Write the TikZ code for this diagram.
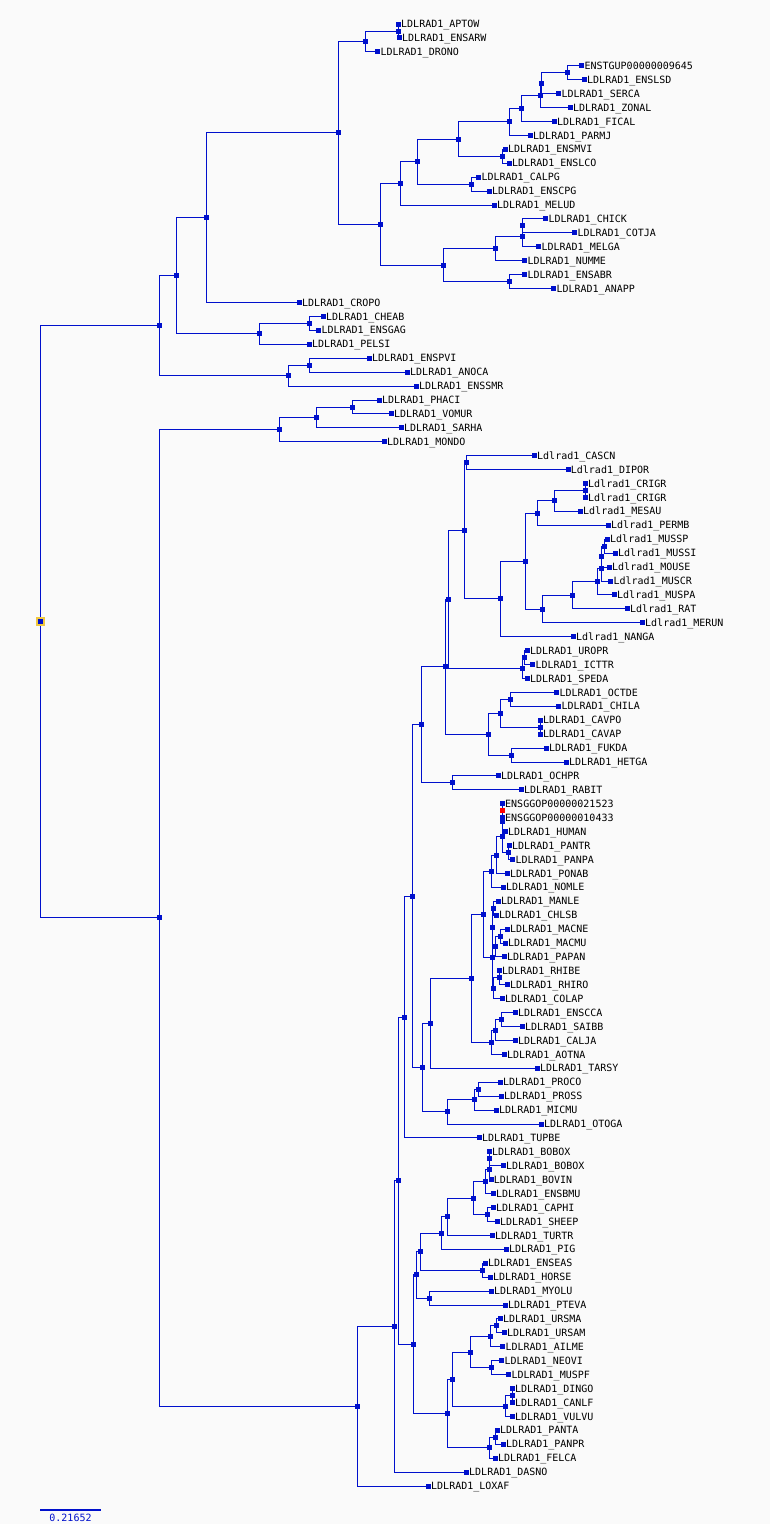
\documentclass[tikz,border=0pt]{standalone}
\usepackage{fontspec}
\setmonofont{DejaVu Sans Mono}
\usepackage{xcolor}
\usepackage{tikz}
\definecolor{treeblue}{RGB}{0,16,204}
\definecolor{bggray}{RGB}{250,250,250}
\definecolor{rootgold}{RGB}{240,200,64}
\definecolor{nodered}{RGB}{255,0,0}
\pgfdeclarelayer{bg}
\pgfdeclarelayer{edges}
\pgfsetlayers{bg,edges,main}
\tikzstyle{leaf} = [rectangle, fill=treeblue, inner sep=0pt, minimum size=5pt, label distance=3.6pt]
\tikzstyle{fork} = [rectangle, fill=treeblue, inner sep=0pt, minimum size=5pt]
\tikzstyle{lab} = [font=\ttfamily\fontsize{10}{12}\selectfont, inner sep=0pt, text height=7.3pt, text depth=0pt]
\tikzstyle{branch} = [draw=treeblue, line width=1pt]
\newcommand{\clade}[3]{\path [branch] (#1.center) |- (#2.center) (#1.center) |- (#3.center);}

\begin{document}
\begin{tikzpicture}[x=1pt, y=-1pt]
    \useasboundingbox (0,0) rectangle (770,1524);
    \begin{pgfonlayer}{bg}
      \fill [bggray] (0,0) rectangle (770,1524);
    \end{pgfonlayer}
    % leaves
    \node [leaf, label={[lab]right:LDLRAD1\_APTOW}] (aptow) at (398.3,24.0) {};
    \node [leaf, label={[lab]right:LDLRAD1\_ENSARW}] (ensarw) at (399.3,37.9) {};
    \node [leaf, label={[lab]right:LDLRAD1\_DRONO}] (drono) at (377.7,51.8) {};
    \node [leaf, label={[lab]right:ENSTGUP00000009645}] (enstgup) at (581.7,65.8) {};
    \node [leaf, label={[lab]right:LDLRAD1\_ENSLSD}] (enslsd) at (584.3,79.7) {};
    \node [leaf, label={[lab]right:LDLRAD1\_SERCA}] (serca) at (558.7,93.6) {};
    \node [leaf, label={[lab]right:LDLRAD1\_ZONAL}] (zonal) at (570.3,107.5) {};
    \node [leaf, label={[lab]right:LDLRAD1\_FICAL}] (fical) at (554.3,121.5) {};
    \node [leaf, label={[lab]right:LDLRAD1\_PARMJ}] (parmj) at (530.3,135.4) {};
    \node [leaf, label={[lab]right:LDLRAD1\_ENSMVI}] (ensmvi) at (505.3,149.3) {};
    \node [leaf, label={[lab]right:LDLRAD1\_ENSLCO}] (enslco) at (509.3,163.2) {};
    \node [leaf, label={[lab]right:LDLRAD1\_CALPG}] (calpg) at (478.7,177.2) {};
    \node [leaf, label={[lab]right:LDLRAD1\_ENSCPG}] (enscpg) at (489.3,191.1) {};
    \node [leaf, label={[lab]right:LDLRAD1\_MELUD}] (melud) at (494.3,205.0) {};
    \node [leaf, label={[lab]right:LDLRAD1\_CHICK}] (chick) at (545.7,218.9) {};
    \node [leaf, label={[lab]right:LDLRAD1\_COTJA}] (cotja) at (574.7,232.9) {};
    \node [leaf, label={[lab]right:LDLRAD1\_MELGA}] (melga) at (538.7,246.8) {};
    \node [leaf, label={[lab]right:LDLRAD1\_NUMME}] (numme) at (524.7,260.7) {};
    \node [leaf, label={[lab]right:LDLRAD1\_ENSABR}] (ensabr) at (524.7,274.6) {};
    \node [leaf, label={[lab]right:LDLRAD1\_ANAPP}] (anapp) at (553.7,288.6) {};
    \node [leaf, label={[lab]right:LDLRAD1\_CROPO}] (cropo) at (299.3,302.5) {};
    \node [leaf, label={[lab]right:LDLRAD1\_CHEAB}] (cheab) at (323.3,316.4) {};
    \node [leaf, label={[lab]right:LDLRAD1\_ENSGAG}] (ensgag) at (318.7,330.3) {};
    \node [leaf, label={[lab]right:LDLRAD1\_PELSI}] (pelsi) at (309.3,344.3) {};
    \node [leaf, label={[lab]right:LDLRAD1\_ENSPVI}] (enspvi) at (369.3,358.2) {};
    \node [leaf, label={[lab]right:LDLRAD1\_ANOCA}] (anoca) at (407.3,372.1) {};
    \node [leaf, label={[lab]right:LDLRAD1\_ENSSMR}] (enssmr) at (416.3,386.0) {};
    \node [leaf, label={[lab]right:LDLRAD1\_PHACI}] (phaci) at (379.3,400.0) {};
    \node [leaf, label={[lab]right:LDLRAD1\_VOMUR}] (vomur) at (391.3,413.9) {};
    \node [leaf, label={[lab]right:LDLRAD1\_SARHA}] (sarha) at (401.3,427.8) {};
    \node [leaf, label={[lab]right:LDLRAD1\_MONDO}] (mondo) at (384.3,441.7) {};
    \node [leaf, label={[lab]right:Ldlrad1\_CASCN}] (cascn) at (534.3,455.7) {};
    \node [leaf, label={[lab]right:Ldlrad1\_DIPOR}] (dipor) at (568.0,469.6) {};
    \node [leaf, label={[lab]right:Ldlrad1\_CRIGR}] (crigr1) at (585.3,483.5) {};
    \node [leaf, label={[lab]right:Ldlrad1\_CRIGR}] (crigr2) at (585.3,497.4) {};
    \node [leaf, label={[lab]right:Ldlrad1\_MESAU}] (mesau) at (580.3,511.3) {};
    \node [leaf, label={[lab]right:Ldlrad1\_PERMB}] (permb) at (608.3,525.3) {};
    \node [leaf, label={[lab]right:Ldlrad1\_MUSSP}] (mussp) at (607.3,539.2) {};
    \node [leaf, label={[lab]right:Ldlrad1\_MUSSI}] (mussi) at (615.3,553.1) {};
    \node [leaf, label={[lab]right:Ldlrad1\_MOUSE}] (mouse) at (609.3,567.0) {};
    \node [leaf, label={[lab]right:Ldlrad1\_MUSCR}] (muscr) at (610.7,581.0) {};
    \node [leaf, label={[lab]right:Ldlrad1\_MUSPA}] (muspa) at (614.3,594.9) {};
    \node [leaf, label={[lab]right:Ldlrad1\_RAT}] (rat) at (627.3,608.8) {};
    \node [leaf, label={[lab]right:Ldlrad1\_MERUN}] (merun) at (642.3,622.7) {};
    \node [leaf, label={[lab]right:Ldlrad1\_NANGA}] (nanga) at (573.3,636.7) {};
    \node [leaf, label={[lab]right:LDLRAD1\_UROPR}] (uropr) at (527.3,650.6) {};
    \node [leaf, label={[lab]right:LDLRAD1\_ICTTR}] (icttr) at (532.7,664.5) {};
    \node [leaf, label={[lab]right:LDLRAD1\_SPEDA}] (speda) at (527.3,678.4) {};
    \node [leaf, label={[lab]right:LDLRAD1\_OCTDE}] (octde) at (556.7,692.4) {};
    \node [leaf, label={[lab]right:LDLRAD1\_CHILA}] (chila) at (558.7,706.3) {};
    \node [leaf, label={[lab]right:LDLRAD1\_CAVPO}] (cavpo) at (540.3,720.2) {};
    \node [leaf, label={[lab]right:LDLRAD1\_CAVAP}] (cavap) at (540.3,734.1) {};
    \node [leaf, label={[lab]right:LDLRAD1\_FUKDA}] (fukda) at (546.3,748.1) {};
    \node [leaf, label={[lab]right:LDLRAD1\_HETGA}] (hetga) at (566.3,762.0) {};
    \node [leaf, label={[lab]right:LDLRAD1\_OCHPR}] (ochpr) at (498.3,775.9) {};
    \node [leaf, label={[lab]right:LDLRAD1\_RABIT}] (rabit) at (521.3,789.8) {};
    \node [leaf, label={[lab]right:ENSGGOP00000021523}] (ggo1) at (502.3,803.7) {};
    \node [leaf, label={[lab]right:ENSGGOP00000010433}] (ggo2) at (502.3,817.7) {};
    \node [leaf, label={[lab]right:LDLRAD1\_HUMAN}] (human) at (505.3,831.6) {};
    \node [leaf, label={[lab]right:LDLRAD1\_PANTR}] (pantr) at (509.3,845.5) {};
    \node [leaf, label={[lab]right:LDLRAD1\_PANPA}] (panpa) at (512.7,859.4) {};
    \node [leaf, label={[lab]right:LDLRAD1\_PONAB}] (ponab) at (507.3,873.4) {};
    \node [leaf, label={[lab]right:LDLRAD1\_NOMLE}] (nomle) at (503.3,887.3) {};
    \node [leaf, label={[lab]right:LDLRAD1\_MANLE}] (manle) at (498.3,901.2) {};
    \node [leaf, label={[lab]right:LDLRAD1\_CHLSB}] (chlsb) at (496.3,915.1) {};
    \node [leaf, label={[lab]right:LDLRAD1\_MACNE}] (macne) at (507.3,929.1) {};
    \node [leaf, label={[lab]right:LDLRAD1\_MACMU}] (macmu) at (505.3,943.0) {};
    \node [leaf, label={[lab]right:LDLRAD1\_PAPAN}] (papan) at (504.3,956.9) {};
    \node [leaf, label={[lab]right:LDLRAD1\_RHIBE}] (rhibe) at (499.3,970.8) {};
    \node [leaf, label={[lab]right:LDLRAD1\_RHIRO}] (rhiro) at (507.3,984.7) {};
    \node [leaf, label={[lab]right:LDLRAD1\_COLAP}] (colap) at (502.3,998.7) {};
    \node [leaf, label={[lab]right:LDLRAD1\_ENSCCA}] (enscca) at (515.3,1012.6) {};
    \node [leaf, label={[lab]right:LDLRAD1\_SAIBB}] (saibb) at (522.3,1026.5) {};
    \node [leaf, label={[lab]right:LDLRAD1\_CALJA}] (calja) at (515.3,1040.4) {};
    \node [leaf, label={[lab]right:LDLRAD1\_AOTNA}] (aotna) at (504.3,1054.4) {};
    \node [leaf, label={[lab]right:LDLRAD1\_TARSY}] (tarsy) at (537.3,1068.3) {};
    \node [leaf, label={[lab]right:LDLRAD1\_PROCO}] (proco) at (500.3,1082.2) {};
    \node [leaf, label={[lab]right:LDLRAD1\_PROSS}] (pross) at (501.3,1096.1) {};
    \node [leaf, label={[lab]right:LDLRAD1\_MICMU}] (micmu) at (496.3,1110.1) {};
    \node [leaf, label={[lab]right:LDLRAD1\_OTOGA}] (otoga) at (541.3,1124.0) {};
    \node [leaf, label={[lab]right:LDLRAD1\_TUPBE}] (tupbe) at (479.3,1137.9) {};
    \node [leaf, label={[lab]right:LDLRAD1\_BOBOX}] (bobox1) at (489.3,1151.8) {};
    \node [leaf, label={[lab]right:LDLRAD1\_BOBOX}] (bobox2) at (503.3,1165.8) {};
    \node [leaf, label={[lab]right:LDLRAD1\_BOVIN}] (bovin) at (491.0,1179.7) {};
    \node [leaf, label={[lab]right:LDLRAD1\_ENSBMU}] (ensbmu) at (493.3,1193.6) {};
    \node [leaf, label={[lab]right:LDLRAD1\_CAPHI}] (caphi) at (493.3,1207.5) {};
    \node [leaf, label={[lab]right:LDLRAD1\_SHEEP}] (sheep) at (497.3,1221.5) {};
    \node [leaf, label={[lab]right:LDLRAD1\_TURTR}] (turtr) at (492.3,1235.4) {};
    \node [leaf, label={[lab]right:LDLRAD1\_PIG}] (pig) at (506.3,1249.3) {};
    \node [leaf, label={[lab]right:LDLRAD1\_ENSEAS}] (enseas) at (485.3,1263.2) {};
    \node [leaf, label={[lab]right:LDLRAD1\_HORSE}] (horse) at (490.3,1277.1) {};
    \node [leaf, label={[lab]right:LDLRAD1\_MYOLU}] (myolu) at (491.3,1291.1) {};
    \node [leaf, label={[lab]right:LDLRAD1\_PTEVA}] (pteva) at (505.3,1305.0) {};
    \node [leaf, label={[lab]right:LDLRAD1\_URSMA}] (ursma) at (500.3,1318.9) {};
    \node [leaf, label={[lab]right:LDLRAD1\_URSAM}] (ursam) at (504.3,1332.8) {};
    \node [leaf, label={[lab]right:LDLRAD1\_AILME}] (ailme) at (502.7,1346.8) {};
    \node [leaf, label={[lab]right:LDLRAD1\_NEOVI}] (neovi) at (501.7,1360.7) {};
    \node [leaf, label={[lab]right:LDLRAD1\_MUSPF}] (muspf) at (508.7,1374.6) {};
    \node [leaf, label={[lab]right:LDLRAD1\_DINGO}] (dingo) at (512.3,1388.5) {};
    \node [leaf, label={[lab]right:LDLRAD1\_CANLF}] (canlf) at (512.3,1402.5) {};
    \node [leaf, label={[lab]right:LDLRAD1\_VULVU}] (vulvu) at (512.3,1416.4) {};
    \node [leaf, label={[lab]right:LDLRAD1\_PANTA}] (panta) at (497.3,1430.3) {};
    \node [leaf, label={[lab]right:LDLRAD1\_PANPR}] (panpr) at (503.3,1444.2) {};
    \node [leaf, label={[lab]right:LDLRAD1\_FELCA}] (felca) at (495.3,1458.2) {};
    \node [leaf, label={[lab]right:LDLRAD1\_DASNO}] (dasno) at (466.3,1472.1) {};
    \node [leaf, label={[lab]right:LDLRAD1\_LOXAF}] (loxaf) at (428.3,1486.0) {};

    % inner nodes, birds and reptiles
    \node [fork] (a1) at (398.3,31.0) {};
    \node [fork] (a2) at (365.3,41.4) {};
    \node [fork] (c1) at (567.3,72.8) {};
    \node [fork] (c2) at (541.3,83.2) {};
    \node [fork] (c3) at (540.3,95.4) {};
    \node [fork] (c4) at (521.3,108.4) {};
    \node [fork] (c5) at (509.3,121.9) {};
    \node [fork] (c6) at (502.3,156.3) {};
    \node [fork] (c7) at (458.3,139.1) {};
    \node [fork] (c8) at (471.3,184.2) {};
    \node [fork] (c9) at (417.3,161.7) {};
    \node [fork] (c10) at (400.3,183.4) {};
    \node [fork] (g1) at (522.3,225.9) {};
    \node [fork] (g2) at (522.3,236.4) {};
    \node [fork] (g3) at (495.3,248.6) {};
    \node [fork] (g4) at (509.3,281.6) {};
    \node [fork] (g5) at (443.3,265.1) {};
    \node [fork] (b1) at (380.3,224.3) {};
    \node [fork] (b2) at (338.3,132.9) {};
    \node [fork] (b3) at (206.3,217.7) {};
    \node [fork] (t1) at (309.3,323.4) {};
    \node [fork] (t2) at (259.3,333.9) {};
    \node [fork] (s1) at (176.3,275.8) {};
    \node [fork] (l1) at (309.3,365.2) {};
    \node [fork] (l2) at (288.3,375.6) {};
    \node [fork] (s2) at (159.3,325.7) {};
    \node [fork] (m1) at (352.3,407.0) {};
    \node [fork] (m2) at (316.7,417.4) {};
    \node [fork] (m3) at (279.3,429.6) {};
    % glires
    \node [fork] (r1) at (466.3,462.7) {};
    \node [fork] (r2) at (585.3,490.5) {};
    \node [fork] (r3) at (554.3,500.9) {};
    \node [fork] (r4) at (537.3,513.1) {};
    \node [fork] (r5) at (604.3,546.2) {};
    \node [fork] (r6) at (601.3,556.6) {};
    \node [fork] (r7) at (601.3,568.8) {};
    \node [fork] (r8) at (597.3,581.9) {};
    \node [fork] (r9) at (572.3,595.4) {};
    \node [fork] (r10) at (542.3,609.1) {};
    \node [fork] (r11) at (525.3,561.1) {};
    \node [fork] (r12) at (500.0,598.9) {};
    \node [fork] (r13) at (464.3,530.8) {};
    \node [fork] (q1) at (524.3,657.6) {};
    \node [fork] (q2) at (522.3,668.0) {};
    \node [fork] (r14) at (448.3,599.4) {};
    \node [fork] (h1) at (510.3,699.4) {};
    \node [fork] (h2) at (540.3,727.2) {};
    \node [fork] (h3) at (500.3,713.3) {};
    \node [fork] (h4) at (511.3,755.1) {};
    \node [fork] (h5) at (488.3,734.2) {};
    \node [fork] (r15) at (445.7,666.8) {};
    \node [fork] (o1) at (452.3,782.9) {};
    \node [fork] (gl) at (421.3,724.9) {};
    % primates
    \node [fork, fill=nodered] (p1) at (502.3,810.7) {};
    \node [fork] (p2) at (502.3,821.2) {};
    \node [fork] (p3) at (508.3,852.5) {};
    \node [fork] (p4) at (502.3,836.9) {};
    \node [fork] (p5) at (496.3,855.2) {};
    \node [fork] (p6) at (491.3,871.3) {};
    \node [fork] (k1) at (493.3,908.2) {};
    \node [fork] (k2) at (500.3,936.1) {};
    \node [fork] (k3) at (495.0,946.5) {};
    \node [fork] (k4) at (492.3,927.4) {};
    \node [fork] (k5) at (499.3,977.8) {};
    \node [fork] (k6) at (493.3,988.3) {};
    \node [fork] (k7) at (492.3,957.9) {};
    \node [fork] (p7) at (483.3,914.6) {};
    \node [fork] (w1) at (501.3,1019.6) {};
    \node [fork] (w2) at (495.3,1030.0) {};
    \node [fork] (w3) at (491.3,1042.2) {};
    \node [fork] (p8) at (471.3,978.4) {};
    \node [fork] (p9) at (430.3,1023.4) {};
    \node [fork] (e1) at (478.3,1089.2) {};
    \node [fork] (e2) at (474.3,1099.7) {};
    \node [fork] (e3) at (447.3,1111.9) {};
    \node [fork] (p10) at (422.3,1067.7) {};
    \node [fork] (eu1) at (412.3,896.3) {};
    \node [fork] (eu2) at (404.3,1017.1) {};
    % laurasiatheria and the rest
    \node [fork] (v1) at (489.3,1158.8) {};
    \node [fork] (v2) at (489.3,1169.3) {};
    \node [fork] (v3) at (485.3,1181.5) {};
    \node [fork] (v4) at (487.3,1214.5) {};
    \node [fork] (v5) at (473.3,1198.0) {};
    \node [fork] (v6) at (447.3,1216.7) {};
    \node [fork] (v7) at (441.3,1233.0) {};
    \node [fork] (v8) at (482.3,1270.2) {};
    \node [fork] (v9) at (420.3,1251.6) {};
    \node [fork] (v10) at (429.3,1298.1) {};
    \node [fork] (v11) at (416.0,1274.9) {};
    \node [fork] (f1) at (496.3,1325.9) {};
    \node [fork] (f2) at (490.5,1336.4) {};
    \node [fork] (f3) at (491.7,1367.7) {};
    \node [fork] (f4) at (470.3,1352.1) {};
    \node [fork] (f5) at (512.3,1395.5) {};
    \node [fork] (f6) at (505.7,1406.0) {};
    \node [fork] (f7) at (452.3,1379.1) {};
    \node [fork] (f8) at (495.3,1437.3) {};
    \node [fork] (f9) at (489.3,1447.8) {};
    \node [fork] (f10) at (447.3,1413.5) {};
    \node [fork] (v12) at (413.3,1344.2) {};
    \node [fork] (eu3) at (398.3,1180.7) {};
    \node [fork] (eu4) at (394.3,1326.4) {};
    \node [fork] (eu5) at (357.3,1406.2) {};
    \node [fork] (s3) at (159.3,917.9) {};
    \node [fork, minimum size=6.7pt, draw=rootgold, line width=2pt] (root) at (40.3,621.8) {};

    % scale bar
    \coordinate (sbl) at (40,1510);
    \coordinate (sbr) at (101,1510);
    \draw [treeblue, line width=2pt] (sbl) -- (sbr);
    \node [lab, text=treeblue, anchor=base] (sblab) at (70.5,1521.5) {0.21652};

    % edges
    \begin{pgfonlayer}{edges}
    \clade{a1}{aptow}{ensarw}
    \clade{a2}{a1}{drono}
    \clade{c1}{enstgup}{enslsd}
    \clade{c2}{c1}{serca}
    \clade{c3}{c2}{zonal}
    \clade{c4}{c3}{fical}
    \clade{c5}{c4}{parmj}
    \clade{c6}{ensmvi}{enslco}
    \clade{c7}{c5}{c6}
    \clade{c8}{calpg}{enscpg}
    \clade{c9}{c7}{c8}
    \clade{c10}{c9}{melud}
    \clade{g1}{chick}{cotja}
    \clade{g2}{g1}{melga}
    \clade{g3}{g2}{numme}
    \clade{g4}{ensabr}{anapp}
    \clade{g5}{g3}{g4}
    \clade{b1}{c10}{g5}
    \clade{b2}{a2}{b1}
    \clade{b3}{b2}{cropo}
    \clade{t1}{cheab}{ensgag}
    \clade{t2}{t1}{pelsi}
    \clade{s1}{b3}{t2}
    \clade{l1}{enspvi}{anoca}
    \clade{l2}{l1}{enssmr}
    \clade{s2}{s1}{l2}
    \clade{m1}{phaci}{vomur}
    \clade{m2}{m1}{sarha}
    \clade{m3}{m2}{mondo}
    \clade{r1}{cascn}{dipor}
    \clade{r2}{crigr1}{crigr2}
    \clade{r3}{r2}{mesau}
    \clade{r4}{r3}{permb}
    \clade{r5}{mussp}{mussi}
    \clade{r6}{r5}{mouse}
    \clade{r7}{r6}{muscr}
    \clade{r8}{r7}{muspa}
    \clade{r9}{r8}{rat}
    \clade{r10}{r9}{merun}
    \clade{r11}{r4}{r10}
    \clade{r12}{r11}{nanga}
    \clade{r13}{r1}{r12}
    \clade{q1}{uropr}{icttr}
    \clade{q2}{q1}{speda}
    \clade{r14}{r13}{q2}
    \clade{h1}{octde}{chila}
    \clade{h2}{cavpo}{cavap}
    \clade{h3}{h1}{h2}
    \clade{h4}{fukda}{hetga}
    \clade{h5}{h3}{h4}
    \clade{r15}{r14}{h5}
    \clade{o1}{ochpr}{rabit}
    \clade{gl}{r15}{o1}
    \clade{p1}{ggo1}{ggo2}
    \clade{p2}{p1}{human}
    \clade{p3}{pantr}{panpa}
    \clade{p4}{p2}{p3}
    \clade{p5}{p4}{ponab}
    \clade{p6}{p5}{nomle}
    \clade{k1}{manle}{chlsb}
    \clade{k2}{macne}{macmu}
    \clade{k3}{k2}{papan}
    \clade{k4}{k1}{k3}
    \clade{k5}{rhibe}{rhiro}
    \clade{k6}{k5}{colap}
    \clade{k7}{k4}{k6}
    \clade{p7}{p6}{k7}
    \clade{w1}{enscca}{saibb}
    \clade{w2}{w1}{calja}
    \clade{w3}{w2}{aotna}
    \clade{p8}{p7}{w3}
    \clade{p9}{p8}{tarsy}
    \clade{e1}{proco}{pross}
    \clade{e2}{e1}{micmu}
    \clade{e3}{e2}{otoga}
    \clade{p10}{p9}{e3}
    \clade{eu1}{gl}{p10}
    \clade{eu2}{eu1}{tupbe}
    \clade{v1}{bobox1}{bobox2}
    \clade{v2}{v1}{bovin}
    \clade{v3}{v2}{ensbmu}
    \clade{v4}{caphi}{sheep}
    \clade{v5}{v3}{v4}
    \clade{v6}{v5}{turtr}
    \clade{v7}{v6}{pig}
    \clade{v8}{enseas}{horse}
    \clade{v9}{v7}{v8}
    \clade{v10}{myolu}{pteva}
    \clade{v11}{v9}{v10}
    \clade{f1}{ursma}{ursam}
    \clade{f2}{f1}{ailme}
    \clade{f3}{neovi}{muspf}
    \clade{f4}{f2}{f3}
    \clade{f5}{dingo}{canlf}
    \clade{f6}{f5}{vulvu}
    \clade{f7}{f4}{f6}
    \clade{f8}{panta}{panpr}
    \clade{f9}{f8}{felca}
    \clade{f10}{f7}{f9}
    \clade{v12}{v11}{f10}
    \clade{eu3}{eu2}{v12}
    \clade{eu4}{eu3}{dasno}
    \clade{eu5}{eu4}{loxaf}
    \clade{s3}{m3}{eu5}
    \clade{root}{s2}{s3}
    \end{pgfonlayer}
\end{tikzpicture}
\end{document}
